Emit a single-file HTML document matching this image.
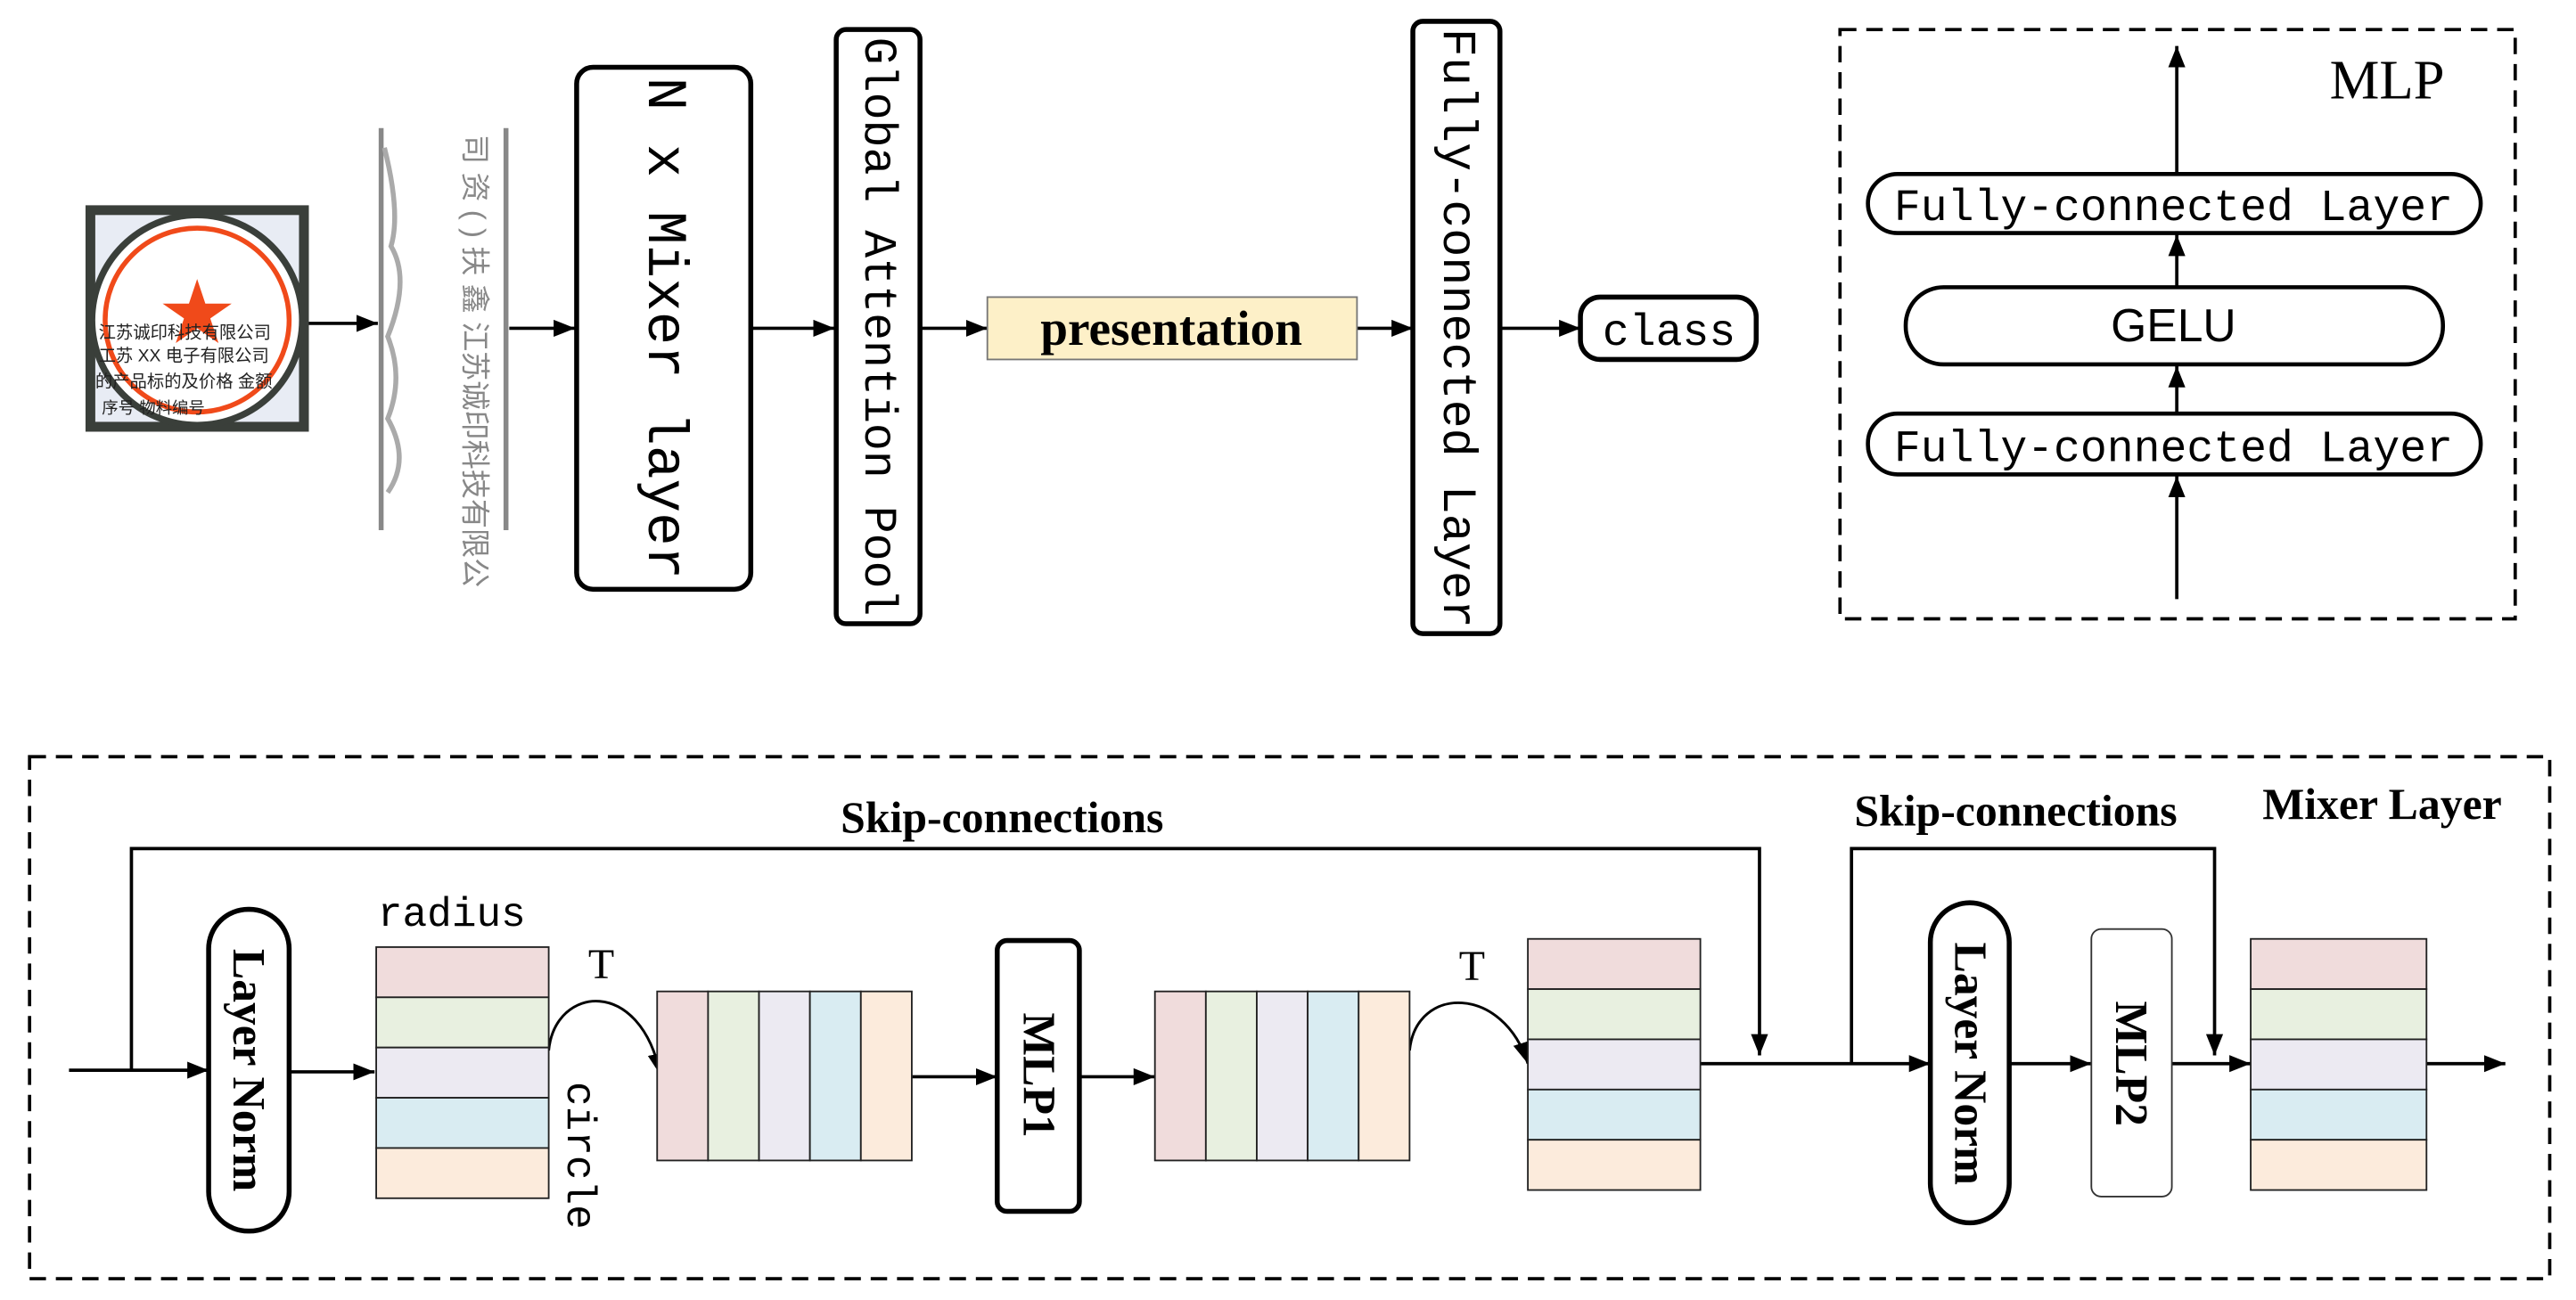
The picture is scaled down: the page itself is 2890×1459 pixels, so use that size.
<!DOCTYPE html>
<html><head><meta charset="utf-8"><style>html,body{margin:0;padding:0;background:#fff}svg{display:block}</style></head><body>
<svg xmlns="http://www.w3.org/2000/svg" width="2890" height="1459" viewBox="0 0 1568 792" preserveAspectRatio="none">
<defs>
<marker id="b" viewBox="0 0 10 10" refX="10" refY="5" markerWidth="13" markerHeight="13" orient="auto" markerUnits="userSpaceOnUse"><path d="M0,1 L10,5 L0,9 z" fill="#000"/></marker>
<clipPath id="c"><rect x="52" y="125" width="136" height="138"/></clipPath>
</defs>
<style>
.mono{font-family:"Liberation Mono","DejaVu Sans Mono",monospace}
.serif{font-family:"Liberation Serif",serif}
.bs{font-family:"Liberation Serif",serif;font-weight:bold}
</style>
<g stroke="#000" stroke-width="2" fill="none" marker-end="url(#b)">
<line x1="188" y1="197" x2="230" y2="197"/>
<line x1="310" y1="200" x2="350" y2="200"/>
<line x1="457" y1="200" x2="508" y2="200"/>
<line x1="560" y1="200" x2="601" y2="200"/>
<line x1="826" y1="200" x2="860" y2="200"/>
<line x1="913" y1="200" x2="962" y2="200"/>
<line x1="1325" y1="365" x2="1325" y2="290"/>
<line x1="1325" y1="252" x2="1325" y2="223"/>
<line x1="1325" y1="175" x2="1325" y2="143"/>
<line x1="1325" y1="106" x2="1325" y2="28"/>
<line x1="42" y1="652" x2="127" y2="652"/>
<line x1="176" y1="653" x2="228" y2="653"/>
<line x1="555" y1="656" x2="607" y2="656"/>
<line x1="657" y1="656" x2="703" y2="656"/>
<line x1="1035" y1="648" x2="1175" y2="648"/>
<line x1="1223" y1="648" x2="1273" y2="648"/>
<line x1="1322" y1="648" x2="1370" y2="648"/>
<line x1="1477" y1="648" x2="1525" y2="648"/>
<polyline points="80,652 80,517 1071,517 1071,643"/>
<polyline points="1127,648 1127,517 1348,517 1348,643"/>
<path d="M334,640 C338,600 390,595 402,655" stroke-width="1.6"/>
<path d="M858,640 C862,600 915,600 930,648" stroke-width="1.6"/>
</g>
<!-- stamp image -->
<g clip-path="url(#c)">
<rect x="52" y="125" width="136" height="138" fill="#3a3f3a"/>
<rect x="58" y="131" width="124" height="126" fill="#e8ecf4"/>
<circle cx="120" cy="195" r="66" fill="#3a3f3a"/>
<circle cx="120" cy="195" r="62" fill="#fff"/>
<circle cx="120" cy="195" r="56" fill="none" stroke="#f04a1a" stroke-width="3"/>
<polygon points="120,170 125,185 141,185 128,194 133,209 120,200 107,209 112,194 99,185 115,185" fill="#f04a1a"/>
<text x="60" y="206" font-size="10.5" fill="#222" font-family="'Liberation Sans','Noto Sans CJK SC',sans-serif">江苏诚印科技有限公司</text>
<text x="60" y="220" font-size="10.5" fill="#222" font-family="'Liberation Sans','Noto Sans CJK SC',sans-serif">工苏 XX 电子有限公司</text>
<text x="58" y="236" font-size="10.5" fill="#222" font-family="'Liberation Sans','Noto Sans CJK SC',sans-serif">的产品标的及价格  金额</text>
<text x="62" y="252" font-size="10" fill="#222" font-family="'Liberation Sans','Noto Sans CJK SC',sans-serif">序号      物料编号</text>
</g>
<!-- strip image -->
<line x1="232" y1="78" x2="232" y2="323" stroke="#888" stroke-width="3"/>
<line x1="308" y1="78" x2="308" y2="323" stroke="#888" stroke-width="3"/>
<path d="M234,90 Q244,130 238,150 Q250,170 236,205 Q246,230 236,255 Q250,280 236,300" stroke="#aaa" stroke-width="3" fill="none"/>
<text transform="translate(283,82) rotate(90)" font-size="18" fill="#888" font-family="'Liberation Sans','Noto Sans CJK SC',sans-serif">司 资 ( )  扶 鑫 江苏诚印科技有限公</text>
<g stroke="#000" stroke-width="3" fill="#fff">
<rect x="351" y="41" width="106" height="318" rx="10"/>
<rect x="509" y="18" width="51" height="362" rx="6"/>
<rect x="860" y="13" width="53" height="373" rx="6"/>
<rect x="962" y="181" width="107" height="38" rx="12"/>
</g>
<rect x="601" y="181" width="225" height="38" fill="#fdf0c8" stroke="#777" stroke-width="1"/>
<text class="mono" transform="translate(404,200) rotate(90)" font-size="34" text-anchor="middle" dominant-baseline="central">N x Mixer layer</text>
<text class="mono" transform="translate(534,199) rotate(90)" font-size="28" text-anchor="middle" dominant-baseline="central">Global Attention Pool</text>
<text class="mono" transform="translate(886,200) rotate(90)" font-size="29" text-anchor="middle" dominant-baseline="central">Fully-connected Layer</text>
<text class="bs" x="713" y="210" font-size="30" text-anchor="middle">presentation</text>
<text class="mono" x="1016" y="210" font-size="27" text-anchor="middle">class</text>
<rect x="1120" y="18" width="411" height="359" fill="none" stroke="#000" stroke-width="2" stroke-dasharray="10,6"/>
<text class="serif" x="1453" y="60" font-size="34" text-anchor="middle">MLP</text>
<g stroke="#000" stroke-width="2.5" fill="#fff">
<rect x="1137" y="106" width="373" height="36" rx="18"/>
<rect x="1160" y="175" width="327" height="47" rx="23"/>
<rect x="1137" y="252" width="373" height="37" rx="18"/>
</g>
<text class="mono" x="1323" y="134" font-size="27" text-anchor="middle">Fully-connected Layer</text>
<text x="1323" y="208" font-size="28" text-anchor="middle" font-family="'Liberation Sans Narrow','Liberation Sans',sans-serif">GELU</text>
<text class="mono" x="1323" y="281" font-size="27" text-anchor="middle">Fully-connected Layer</text>
<rect x="18" y="461" width="1534" height="318" fill="none" stroke="#000" stroke-width="2" stroke-dasharray="10,6"/>
<text class="bs" x="610" y="507" font-size="27" text-anchor="middle">Skip-connections</text>
<text class="bs" x="1227" y="503" font-size="27" text-anchor="middle">Skip-connections</text>
<text class="bs" x="1450" y="499" font-size="27" text-anchor="middle">Mixer Layer</text>
<g stroke="#000" stroke-width="3" fill="#fff">
<rect x="127" y="554" width="49" height="196" rx="24"/>
<rect x="607" y="573" width="50" height="165" rx="6"/>
<rect x="1175" y="550" width="48" height="195" rx="24"/>
</g>
<rect x="1273" y="566" width="49" height="163" rx="6" fill="#fff" stroke="#333" stroke-width="1"/>
<text class="bs" transform="translate(151,652) rotate(90)" font-size="28" text-anchor="middle" dominant-baseline="central">Layer Norm</text>
<text class="bs" transform="translate(632,655) rotate(90)" font-size="28" text-anchor="middle" dominant-baseline="central">MLP1</text>
<text class="bs" transform="translate(1199,648) rotate(90)" font-size="28" text-anchor="middle" dominant-baseline="central">Layer Norm</text>
<text class="bs" transform="translate(1297,648) rotate(90)" font-size="28" text-anchor="middle" dominant-baseline="central">MLP2</text>
<text class="mono" x="230" y="564" font-size="25">radius</text>
<text class="serif" x="366" y="596" font-size="26" text-anchor="middle">T</text>
<text class="serif" x="896" y="597" font-size="26" text-anchor="middle">T</text>
<text class="mono" transform="translate(352,704) rotate(90)" font-size="25" text-anchor="middle" dominant-baseline="central">circle</text>
<g stroke="#222" stroke-width="1">
<rect x="229" y="577" width="105" height="30.6" fill="#f0dcdc"/>
<rect x="229" y="607.6" width="105" height="30.6" fill="#e8f0e0"/>
<rect x="229" y="638.2" width="105" height="30.6" fill="#eceaf2"/>
<rect x="229" y="668.8" width="105" height="30.6" fill="#d9ecf2"/>
<rect x="229" y="699.4" width="105" height="30.6" fill="#fcebdc"/>
<rect x="400" y="604" width="31" height="103" fill="#f0dcdc"/>
<rect x="431" y="604" width="31" height="103" fill="#e8f0e0"/>
<rect x="462" y="604" width="31" height="103" fill="#eceaf2"/>
<rect x="493" y="604" width="31" height="103" fill="#d9ecf2"/>
<rect x="524" y="604" width="31" height="103" fill="#fcebdc"/>
<rect x="703" y="604" width="31" height="103" fill="#f0dcdc"/>
<rect x="734" y="604" width="31" height="103" fill="#e8f0e0"/>
<rect x="765" y="604" width="31" height="103" fill="#eceaf2"/>
<rect x="796" y="604" width="31" height="103" fill="#d9ecf2"/>
<rect x="827" y="604" width="31" height="103" fill="#fcebdc"/>
<rect x="930" y="572" width="105" height="30.6" fill="#f0dcdc"/>
<rect x="930" y="602.6" width="105" height="30.6" fill="#e8f0e0"/>
<rect x="930" y="633.2" width="105" height="30.6" fill="#eceaf2"/>
<rect x="930" y="663.8" width="105" height="30.6" fill="#d9ecf2"/>
<rect x="930" y="694.4" width="105" height="30.6" fill="#fcebdc"/>
<rect x="1370" y="572" width="107" height="30.6" fill="#f0dcdc"/>
<rect x="1370" y="602.6" width="107" height="30.6" fill="#e8f0e0"/>
<rect x="1370" y="633.2" width="107" height="30.6" fill="#eceaf2"/>
<rect x="1370" y="663.8" width="107" height="30.6" fill="#d9ecf2"/>
<rect x="1370" y="694.4" width="107" height="30.6" fill="#fcebdc"/>
</g>
</svg>
</body></html>
